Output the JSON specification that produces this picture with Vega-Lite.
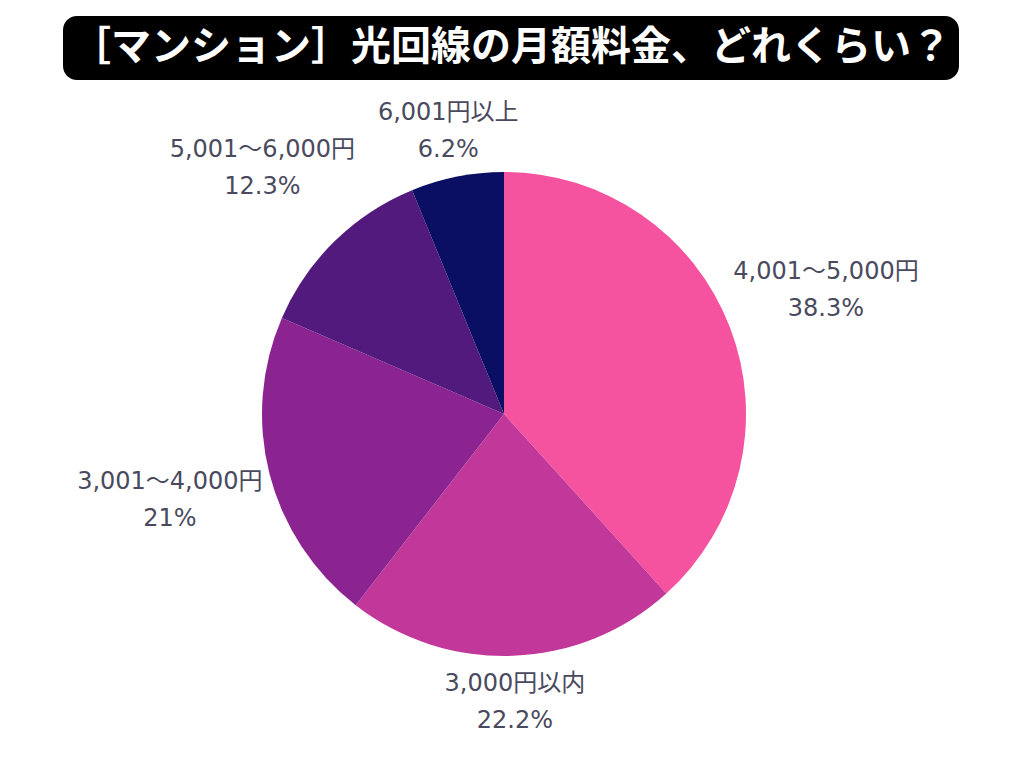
{
  "$schema": "https://vega.github.io/schema/vega-lite/v6.json",
  "padding": {"left": 63, "top": 16, "right": 0, "bottom": 0},
  "autosize": {"type": "pad"},
  "background": "white",
  "spacing": 20,
  "bounds": "flush",
  "config": {"view": {"stroke": null}, "font": "Noto Sans CJK JP"},
  "datasets": {
    "slices": [
      {"rank": 1, "label": "4,001～5,000円", "pct": 38.3, "pctText": "38.3%", "side": "side"},
      {"rank": 2, "label": "3,000円以内", "pct": 22.2, "pctText": "22.2%", "side": "end"},
      {"rank": 3, "label": "3,001～4,000円", "pct": 21.0, "pctText": "21%", "side": "side"},
      {"rank": 4, "label": "5,001～6,000円", "pct": 12.3, "pctText": "12.3%", "side": "side"},
      {"rank": 5, "label": "6,001円以上", "pct": 6.2, "pctText": "6.2%", "side": "end"}
    ]
  },
  "vconcat": [
    {
      "width": 896,
      "height": 64,
      "view": {"fill": "#000000", "cornerRadius": 14, "stroke": null},
      "data": {"values": [{"title": "［マンション］光回線の月額料金、どれくらい？"}]},
      "mark": {"type": "text", "color": "#ffffff", "fontSize": 40, "fontWeight": "bold", "font": "Noto Sans CJK JP", "baseline": "middle", "align": "center"},
      "encoding": {"text": {"field": "title", "type": "nominal"}}
    },
    {
      "width": 882,
      "height": 628,
      "data": {"name": "slices"},
      "encoding": {
        "theta": {"field": "pct", "type": "quantitative", "stack": true},
        "order": {"field": "rank", "type": "quantitative"}
      },
      "layer": [
        {
          "mark": {"type": "arc", "outerRadius": 242},
          "encoding": {
            "color": {
              "field": "label",
              "type": "nominal",
              "scale": {
                "domain": ["4,001～5,000円", "3,000円以内", "3,001～4,000円", "5,001～6,000円", "6,001円以上"],
                "range": ["#F5529F", "#C2389A", "#8B2390", "#521A7C", "#0A0F63"]
              },
              "legend": null
            }
          }
        },
        {
          "mark": {"type": "text", "radius": 345, "dy": -18, "fontSize": 24, "color": "#4A4A5E", "font": "DejaVu Sans, Noto Sans CJK JP"},
          "encoding": {"text": {"condition": {"test": "datum.side === 'side'", "field": "label"}, "value": ""}}
        },
        {
          "mark": {"type": "text", "radius": 345, "dy": 19, "fontSize": 24, "color": "#4A4A5E", "font": "DejaVu Sans, Noto Sans CJK JP"},
          "encoding": {"text": {"condition": {"test": "datum.side === 'side'", "field": "pctText"}, "value": ""}}
        },
        {
          "mark": {"type": "text", "radius": 288, "dy": -18, "fontSize": 24, "color": "#4A4A5E", "font": "DejaVu Sans, Noto Sans CJK JP"},
          "encoding": {"text": {"condition": {"test": "datum.side === 'end'", "field": "label"}, "value": ""}}
        },
        {
          "mark": {"type": "text", "radius": 288, "dy": 19, "fontSize": 24, "color": "#4A4A5E", "font": "DejaVu Sans, Noto Sans CJK JP"},
          "encoding": {"text": {"condition": {"test": "datum.side === 'end'", "field": "pctText"}, "value": ""}}
        }
      ]
    }
  ]
}
